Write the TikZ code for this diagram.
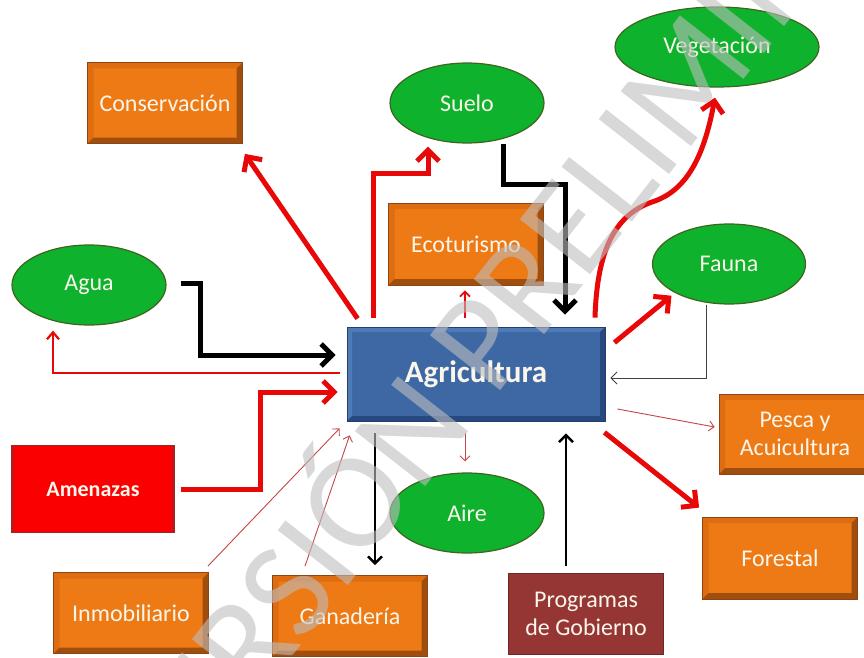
\documentclass[tikz,border=0pt]{standalone}
\usepackage{fontspec}
\setmainfont{Carlito}
\usetikzlibrary{shapes.geometric,arrows.meta}
\definecolor{orM}{RGB}{238,122,22}
\definecolor{orL}{RGB}{222,108,16}
\definecolor{orD}{RGB}{160,78,14}
\definecolor{orE}{RGB}{140,70,22}
\definecolor{blM}{RGB}{62,104,164}
\definecolor{blL}{RGB}{78,122,182}
\definecolor{blD}{RGB}{40,72,128}
\definecolor{blE}{RGB}{36,62,110}
\definecolor{grM}{RGB}{14,178,44}
\definecolor{grE}{RGB}{62,100,32}
\definecolor{rdM}{RGB}{250,0,0}
\definecolor{rdE}{RGB}{150,40,40}
\definecolor{prM}{RGB}{150,54,52}
\definecolor{prE}{RGB}{110,40,40}
\definecolor{txt}{RGB}{250,246,236}
\definecolor{arr}{RGB}{232,8,8}
\definecolor{thinr}{RGB}{196,70,70}
\definecolor{wm}{RGB}{190,190,190}
\newcommand{\lbl}{\fontsize{24}{28}\selectfont}
\tikzset{
  bevel/.style n args={3}{path picture={
    \fill[#1] (path picture bounding box.north west) -- (path picture bounding box.north east)
      -- ([shift={(-#3,-#3)}]path picture bounding box.north east)
      -| ([shift={(#3,#3)}]path picture bounding box.south west)
      -- (path picture bounding box.south west) -- cycle;
    \fill[#2] (path picture bounding box.south west) -- (path picture bounding box.south east)
      -- (path picture bounding box.north east)
      -- ([shift={(-#3,-#3)}]path picture bounding box.north east)
      |- ([shift={(#3,#3)}]path picture bounding box.south west) -- cycle;
  }},
  obox/.style={rectangle, inner sep=0pt, minimum width=155pt, minimum height=81pt,
    fill=orM, draw=orE, line width=0.8pt, text=txt, font=\lbl, align=center,
    bevel={orL}{orD}{6pt}},
  gell/.style={ellipse, inner sep=0pt, minimum width=154pt, minimum height=80pt,
    fill=grM, draw=grE, line width=1.2pt, text=txt, font=\lbl},
  thickred/.style={draw=arr, line width=5pt, -{Straight Barb[length=11pt,width=22pt]}},
  thickblack/.style={draw=black, line width=5pt, -{Straight Barb[length=11pt,width=22pt]}},
  medblack/.style={draw=black, line width=2.4pt, -{Straight Barb[length=7pt,width=14pt]}},
  medred/.style={draw=arr, line width=2.2pt, -{Straight Barb[length=7pt,width=12pt]}},
  thinred/.style={draw=thinr, line width=0.9pt, -{Straight Barb[length=5pt,width=10pt]}},
  thingray/.style={draw=black!75, line width=0.9pt, -{Straight Barb[length=6pt,width=12pt]}},
}
\begin{document}
\begin{tikzpicture}[x=1pt,y=1pt]
\clip (0,0) rectangle (864,-658);
\fill[white] (0,0) rectangle (864,-658);

% nodes
\node[obox] (cons) at (165,-103) {Conservación};
\node[gell] (suelo) at (467,-103) {Suelo};
\node[gell, minimum width=204pt] (veg) at (717,-47) {Vegetación};
\node[obox, minimum height=82pt] (eco) at (466,-244) {Ecoturismo};
\node[gell] (agua) at (89,-285) {Agua};
\node[gell, minimum width=153pt] (fauna) at (729,-264) {Fauna};
\node[rectangle, inner sep=0pt, minimum width=258pt, minimum height=94pt,
  fill=blM, draw=blE, line width=0.8pt, text=txt, bevel={blL}{blD}{5pt},
  font=\fontsize{31}{36}\selectfont\bfseries] (agri) at (476,-374) {Agricultura};
\node[rectangle, inner sep=0pt, minimum width=162pt, minimum height=87pt,
  fill=rdM, draw=rdE, line width=1.2pt, text=txt,
  font=\fontsize{22}{28}\selectfont\bfseries] (amen) at (93,-489) {Amenazas};
\node[gell] (aire) at (467,-513) {Aire};
\node[obox] (inmo) at (131,-613) {Inmobiliario};
\node[obox] (gana) at (350,-616) {Ganadería};
\node[rectangle, inner sep=0pt, minimum width=155pt, minimum height=81pt,
  fill=prM, draw=prE, line width=0.8pt, text=txt, font=\lbl, align=center] (prog) at (586,-614) {Programas\\de Gobierno};
\node[obox, minimum width=152pt, minimum height=80pt] (pesca) at (795,-434) {Pesca y\\Acuicultura};
\node[obox, minimum height=82pt] (fore) at (780,-558) {Forestal};

% connectors
\draw[thickred] ([shift={(11,8)}]agri.north west) -- ([shift={(2,-10)}]cons.south east);
\draw[thickred] ([shift={(27,9)}]agri.north west) |- ([shift={(-39,-30)}]suelo.south) -- ([shift={(-39,-3)}]suelo.south);
\draw[thickblack] ([xshift=36]suelo.south) -- ++(0,-41) -| ([shift={(89,12)}]agri.north);
\draw[draw=arr, line width=1.8pt, -{Straight Barb[length=5pt,width=10pt]}] ([shift={(-11,9)}]agri.north) -- ([shift={(-1,-5)}]eco.south);
\draw[thickred] ([shift={(119,9)}]agri.north) .. controls (597,-250) and (615,-215) .. (652,-202)
  .. controls (690,-190) and (705,-150) .. ([shift={(-2,-10)}]veg.south);
\draw[thickred] ([shift={(9,-16)}]agri.north east) -- ([shift={(-3,-3)}]fauna.south west);
\draw[thingray] ([xshift=-23]fauna.south) |- ([shift={(5,-4)}]agri.east);
\draw[thinred] ([shift={(12,-35)}]agri.east) -- ([shift={(-4,7)}]pesca.west);
\draw[thickred] ([shift={(-1,-11)}]agri.south east) -- ([shift={(-3,9)}]fore.north west);
\draw[medblack] ([shift={(-20,7)}]prog.north) -- ([shift={(90,-12)}]agri.south);
\draw[thinred] ([shift={(-11,-12)}]agri.south) -- ([shift={(-2,11)}]aire.north);
\draw[medblack] ([shift={(-101,-12)}]agri.south) -- ([shift={(25,10)}]gana.north);
\draw[thinred] ([shift={(-1,6)}]inmo.north east) -- ([shift={(-7,-7)}]agri.south west);
\draw[thinred] ([shift={(-45,9)}]gana.north) -- ([shift={(3,-14)}]agri.south west);
\draw[thickred] ([xshift=6]amen.east) -- ++(80,0) |- ([shift={(-9,-18)}]agri.west);
\draw[medred] ([shift={(-7,1)}]agri.west) -| ([shift={(-36,-5)}]agua.south);
\draw[thickblack] ([shift={(14,2)}]agua.east) -- ++(20,0) |- ([shift={(-11,19)}]agri.west);

% watermark
\node[rotate=52, text=wm, text opacity=0.6, font=\fontsize{139}{139}\selectfont] (wmark) at (503,-294) {VERSIÓN PRELIMINAR};
\end{tikzpicture}
\end{document}
